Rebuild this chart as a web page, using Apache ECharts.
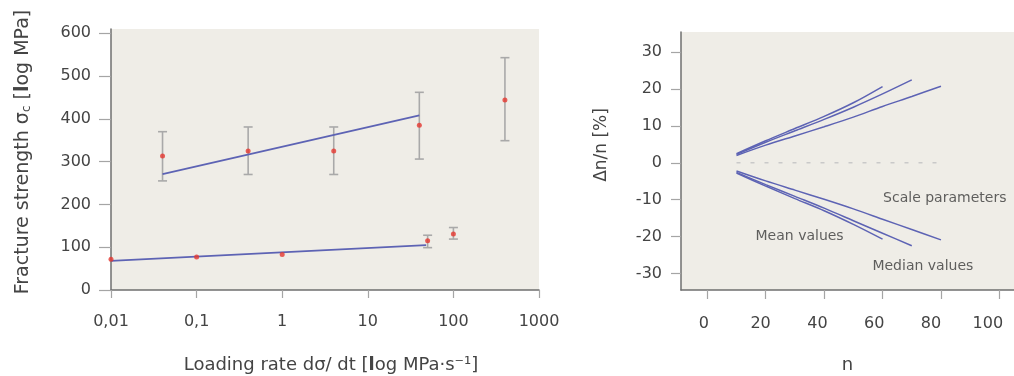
<!DOCTYPE html>
<html><head><meta charset="utf-8">
<script src="https://cdn.jsdelivr.net/npm/echarts@6/dist/echarts.min.js"></script>
<style>html,body{margin:0;padding:0;background:#fff}#c{width:1014px;height:376px}</style>
</head><body><div id="c"></div>
<script>
// ---- Left chart data ----
const rateTickLabels = ['0,01', '0,1', '1', '10', '100', '1000'];
const strengthTicks = [0, 100, 200, 300, 400, 500, 600];
const highRate = [0.04, 0.4, 4, 40, 400];
const highStrength = [313, 325, 325, 385, 444];
const highLow = [255, 270, 270, 306, 349];
const highHigh = [370, 381, 381, 462, 543];
const lowRate = [0.01, 0.1, 1, 50, 100];
const lowStrength = [72, 77, 83, 115, 131];
const lowErrRate = [50, 100];
const lowErrLow = [99, 119];
const lowErrHigh = [128, 146];
const highFitRate = [0.04, 40];
const highFitStrength = [271, 408];
const lowFitRate = [0.01, 48];
const lowFitStrength = [68, 105];

// ---- Right chart data ----
const nTicks = [0, 20, 40, 60, 80, 100];
const devTicks = [-30, -20, -10, 0, 10, 20, 30];
const nA = [10, 20, 30, 40, 50, 60];
const upA = [2.5, 6.0, 9.3, 12.6, 16.3, 20.7];
const loA = [-2.8, -6.3, -9.7, -13.0, -16.7, -20.7];
const nB = [10, 20, 30, 40, 50, 60, 70];
const upB = [2.3, 5.6, 8.7, 11.8, 15.1, 18.7, 22.5];
const loB = [-2.6, -5.9, -9.1, -12.3, -15.7, -19.1, -22.5];
const nC = [10, 20, 30, 40, 50, 60, 70, 80];
const upC = [2.0, 4.8, 7.3, 9.8, 12.4, 15.3, 18.0, 20.8];
const loC = [-2.2, -4.9, -7.4, -9.9, -12.5, -15.3, -18.1, -20.9];
const zeroN = [10, 81.5];
const zeroDev = [0, 0];
const notes = ['Scale parameters', 'Mean values', 'Median values'];
const noteN = [81.3, 31.6, 73.8];
const noteDev = [-9.6, -19.9, -28.0];

const zip = (a, b) => a.map((v, i) => [v, b[i]]);
const zip3 = (a, b, c) => a.map((v, i) => [v, b[i], c[i]]);

const FONT = 'DejaVu Sans';
const TXT = '#444';
const BLUE = '#5d63b4';
const RED = '#e5372f';
const AXIS = '#6f6f6f';
const TICK = '#a5a5a5';
const BG = '#efede7';

function errorBars(params, api) {
  const x = api.value(0), lo = api.value(1), hi = api.value(2);
  const pH = api.coord([x, hi]);
  const pL = api.coord([x, lo]);
  const w = 4.5;
  const st = { stroke: '#a9a9a9', lineWidth: 1.6 };
  return {
    type: 'group',
    children: [
      { type: 'line', shape: { x1: pH[0], y1: pH[1], x2: pL[0], y2: pL[1] }, style: st },
      { type: 'line', shape: { x1: pH[0] - w, y1: pH[1], x2: pH[0] + w, y2: pH[1] }, style: st },
      { type: 'line', shape: { x1: pL[0] - w, y1: pL[1], x2: pL[0] + w, y2: pL[1] }, style: st }
    ]
  };
}

const chart = echarts.init(document.getElementById('c'), null, { renderer: 'canvas' });
const option = {
  animation: false,
  backgroundColor: '#ffffff',
  textStyle: { fontFamily: FONT, color: TXT },
  grid: [
    { left: 111, top: 29, width: 428, height: 261, show: true, backgroundColor: BG, borderWidth: 0, outerBoundsMode: 'none', containLabel: false },
    { left: 681, top: 32, right: 0, height: 258, show: true, backgroundColor: BG, borderWidth: 0, outerBoundsMode: 'none', containLabel: false }
  ],
  xAxis: [
    {
      gridIndex: 0, type: 'log', logBase: 10, min: 0.01, max: 1000, position: 'bottom',
      axisLine: { onZero: false, lineStyle: { color: AXIS, width: 1.5 } },
      axisTick: { length: 8, lineStyle: { color: TICK, width: 1.2 } },
      axisLabel: {
        margin: 24, fontSize: 16, color: TXT, fontFamily: FONT,
        formatter: v => rateTickLabels[Math.round(Math.log10(v)) + 2]
      },
      splitLine: { show: false },
      name: 'Loading rate dσ/ dt [{b|l}og MPa·s⁻¹]',
      nameLocation: 'middle', nameGap: 66,
      nameTextStyle: {
        fontSize: 18, color: TXT, fontFamily: FONT, padding: [0, 0, 0, 12],
        rich: { b: { fontSize: 18, fontWeight: 'bold', color: TXT, fontFamily: FONT } }
      }
    },
    {
      // n axis: line and ticks
      gridIndex: 1, type: 'value', min: -9, max: 105, position: 'bottom',
      axisLine: { onZero: false, lineStyle: { color: AXIS, width: 1.5 } },
      axisTick: { length: 9, customValues: nTicks, lineStyle: { color: TICK, width: 1.2 } },
      axisLabel: { show: false },
      splitLine: { show: false },
      name: 'n', nameLocation: 'middle', nameGap: 66,
      nameTextStyle: { fontSize: 18, color: TXT, fontFamily: FONT }
    },
    {
      // n axis: tick labels (set slightly tighter than the ticks, as in the original)
      gridIndex: 1, type: 'value', min: -8, max: 109.2, position: 'bottom',
      axisLine: { show: false, onZero: false },
      axisTick: { show: false },
      axisLabel: { margin: 26, fontSize: 16, color: TXT, fontFamily: FONT, customValues: nTicks },
      splitLine: { show: false }
    }
  ],
  yAxis: [
    {
      gridIndex: 0, type: 'value', min: 0, max: 610,
      axisLine: { onZero: false, lineStyle: { color: AXIS, width: 1.5 } },
      axisTick: { length: 12, customValues: strengthTicks, lineStyle: { color: TICK, width: 1.2 } },
      axisLabel: { margin: 20, fontSize: 16, color: TXT, fontFamily: FONT, customValues: strengthTicks },
      splitLine: { show: false },
      name: 'Fracture strength σ{sub|c} [{b|l}og MPa]',
      nameLocation: 'middle', nameGap: 78,
      nameTextStyle: {
        fontSize: 19, color: TXT, fontFamily: FONT, padding: [0, 0, 0, 15],
        rich: {
          sub: { fontSize: 12, color: TXT, fontFamily: FONT, verticalAlign: 'bottom', padding: [8, 0, 0, 0] },
          b: { fontSize: 19, fontWeight: 'bold', color: TXT, fontFamily: FONT }
        }
      }
    },
    {
      gridIndex: 1, type: 'value', min: -34.5, max: 35.5,
      axisLine: { onZero: false, lineStyle: { color: AXIS, width: 1.5 } },
      axisTick: { length: 10, customValues: devTicks, lineStyle: { color: TICK, width: 1.2 } },
      axisLabel: { margin: 19, fontSize: 16, color: TXT, fontFamily: FONT, customValues: devTicks },
      splitLine: { show: false },
      name: 'Δn/n [%]', nameLocation: 'middle', nameGap: 71,
      nameTextStyle: { fontSize: 17, color: TXT, fontFamily: FONT, padding: [0, 0, 0, 32] }
    }
  ],
  series: [
    // left chart
    {
      type: 'custom', xAxisIndex: 0, yAxisIndex: 0, renderItem: errorBars,
      encode: { x: 0, y: [1, 2] }, data: zip3(highRate, highLow, highHigh), z: 1
    },
    {
      type: 'custom', xAxisIndex: 0, yAxisIndex: 0, renderItem: errorBars,
      encode: { x: 0, y: [1, 2] }, data: zip3(lowErrRate, lowErrLow, lowErrHigh), z: 1
    },
    {
      type: 'line', xAxisIndex: 0, yAxisIndex: 0, data: zip(highFitRate, highFitStrength),
      showSymbol: false, lineStyle: { color: BLUE, width: 1.8 }, z: 2
    },
    {
      type: 'line', xAxisIndex: 0, yAxisIndex: 0, data: zip(lowFitRate, lowFitStrength),
      showSymbol: false, lineStyle: { color: BLUE, width: 1.8 }, z: 2
    },
    {
      type: 'scatter', xAxisIndex: 0, yAxisIndex: 0, data: zip(highRate, highStrength),
      symbol: 'circle', symbolSize: 5, itemStyle: { color: RED }, z: 3
    },
    {
      type: 'scatter', xAxisIndex: 0, yAxisIndex: 0, data: zip(lowRate, lowStrength),
      symbol: 'circle', symbolSize: 5, itemStyle: { color: RED }, z: 3
    },
    // right chart
    {
      type: 'line', xAxisIndex: 1, yAxisIndex: 1, data: zip(zeroN, zeroDev), showSymbol: false,
      lineStyle: { color: '#c9c9c9', width: 1.5, type: [4, 10] }
    },
    ...[[nA, upA], [nB, upB], [nC, upC], [nA, loA], [nB, loB], [nC, loC]].map(([xs, ys]) => ({
      type: 'line', xAxisIndex: 1, yAxisIndex: 1, data: zip(xs, ys), showSymbol: false,
      smooth: 0.3, lineStyle: { color: BLUE, width: 1.5 }
    })),
    {
      type: 'scatter', xAxisIndex: 1, yAxisIndex: 1, symbolSize: 0,
      data: notes.map((t, i) => ({ name: t, value: [noteN[i], noteDev[i]] })),
      label: {
        show: true, position: 'inside', formatter: p => p.name,
        fontSize: 14, color: '#3a3a3a', fontFamily: FONT
      }
    }
  ]
};
chart.setOption(option);
</script>
</body></html>
